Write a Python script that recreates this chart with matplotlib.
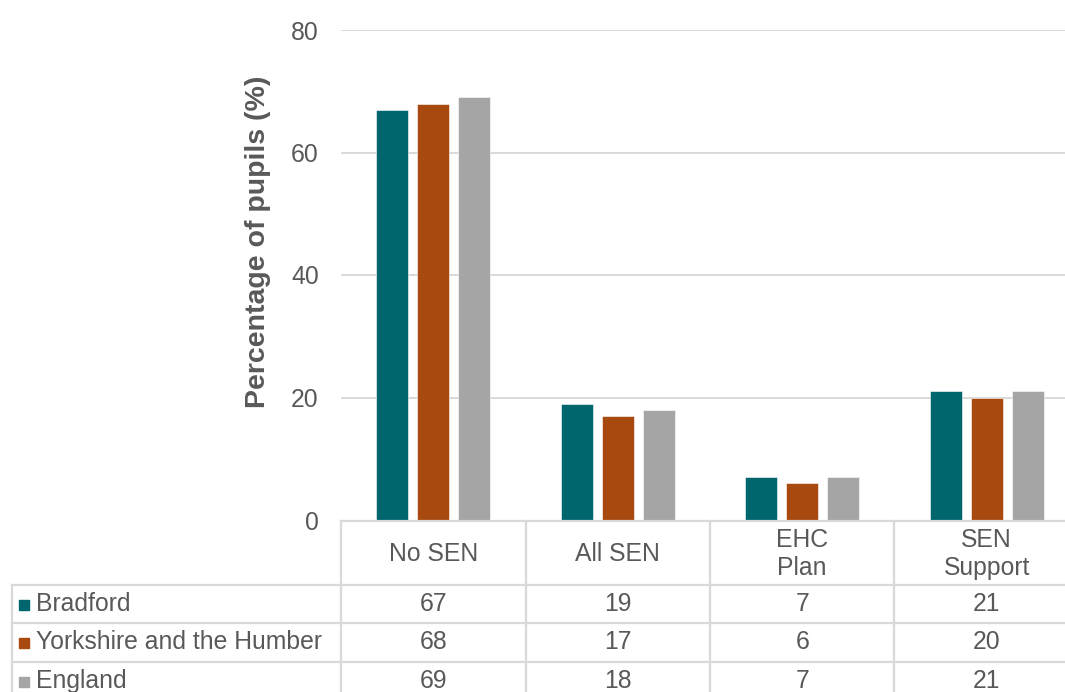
import matplotlib
matplotlib.use("Agg")
import matplotlib.pyplot as plt
import numpy as np
from matplotlib.transforms import blended_transform_factory
from matplotlib.patches import Rectangle

plt.rcParams['font.family'] = ['Liberation Sans', 'DejaVu Sans']

categories = ["No SEN", "All SEN", "EHC\nPlan", "SEN\nSupport"]
series_names = ["Bradford", "Yorkshire and the Humber", "England"]
bradford = [67, 19, 7, 21]
yorkshire = [68, 17, 6, 20]
england = [69, 18, 7, 21]
series_values = [bradford, yorkshire, england]
colors = ["#00666D", "#A84A10", "#A5A5A5"]
y_ticks = [0, 20, 40, 60, 80]

TEXT = "#595959"
GRID = "#D9D9D9"
W, H = 1065, 692
FS = 17.8

fig = plt.figure(figsize=(W / 100, H / 100), dpi=100)

# plot area in pixels; the last column runs past the right edge
left_px, top_px, bottom_px = 341, 30, 520
col_px = 184.5
right_px = left_px + col_px * len(categories)
ax = fig.add_axes([left_px / W, 1 - bottom_px / H,
                   (right_px - left_px) / W, (bottom_px - top_px) / H])

x = np.arange(len(categories))
bar_w = 0.175
step = 0.222
for i, (vals, c) in enumerate(zip(series_values, colors)):
    ax.bar(x + (i - 1) * step, vals, width=bar_w, color=c, zorder=3,
           edgecolor="white", linewidth=0.4)

ax.set_xlim(-0.5, len(categories) - 0.5)
ax.set_ylim(0, 80)
ax.set_yticks(y_ticks)
ax.set_yticklabels([str(t) for t in y_ticks], fontsize=FS, color=TEXT)
ax.tick_params(axis="y", length=0, pad=16)
ax.set_xticks([])
for t in y_ticks[1:]:
    ax.axhline(t, color=GRID, lw=1.4, zorder=1)
for s in ax.spines.values():
    s.set_visible(False)
ax.set_ylabel("Percentage of pupils (%)", fontsize=20.5, fontweight="bold",
              color=TEXT, va="center")
ax.yaxis.set_label_coords((258 - left_px) / (right_px - left_px),
                          (bottom_px - 242) / (bottom_px - top_px))

# data table below the plot
fx = lambda px: px / W
fy = lambda py: 1 - py / H
tf = fig.transFigure
bt = blended_transform_factory(ax.transData, tf)

table_top = 521
header_bottom = 585
row_lines = [585, 623, 662]
row_h = 38.5
label_left = 12

line_kw = dict(color=GRID, lw=1.6, clip_on=False)
fig.add_artist(plt.Line2D([fx(left_px), fx(W)], [fy(table_top)] * 2, transform=tf, **line_kw))
for yl in row_lines:
    fig.add_artist(plt.Line2D([fx(label_left), fx(W)], [fy(yl)] * 2, transform=tf, **line_kw))
fig.add_artist(plt.Line2D([fx(label_left)] * 2, [fy(header_bottom), fy(H)], transform=tf, **line_kw))
for k in range(len(categories)):
    fig.add_artist(plt.Line2D([k - 0.5] * 2, [fy(table_top), fy(H)], transform=bt, **line_kw))

# header row: category names
for k, cat in enumerate(categories):
    fig.text(k, fy((table_top + header_bottom) / 2 + 1), cat, transform=bt,
             ha="center", va="center", fontsize=FS, color=TEXT, linespacing=1.2)

# row labels with colour keys, and values
for r, (name, vals, c) in enumerate(zip(series_names, series_values, colors)):
    yc = row_lines[r] + row_h / 2
    fig.add_artist(Rectangle((fx(19), fy(yc + 5.5)), 10 / W, 10 / H,
                             transform=tf, color=c, clip_on=False))
    fig.text(fx(36), fy(yc), name, transform=tf, ha="left", va="center",
             fontsize=FS, color=TEXT)
    for k, v in enumerate(vals):
        fig.text(k, fy(yc), str(v), transform=bt, ha="center", va="center",
                 fontsize=FS, color=TEXT)

fig.savefig("out.png", dpi=100)
